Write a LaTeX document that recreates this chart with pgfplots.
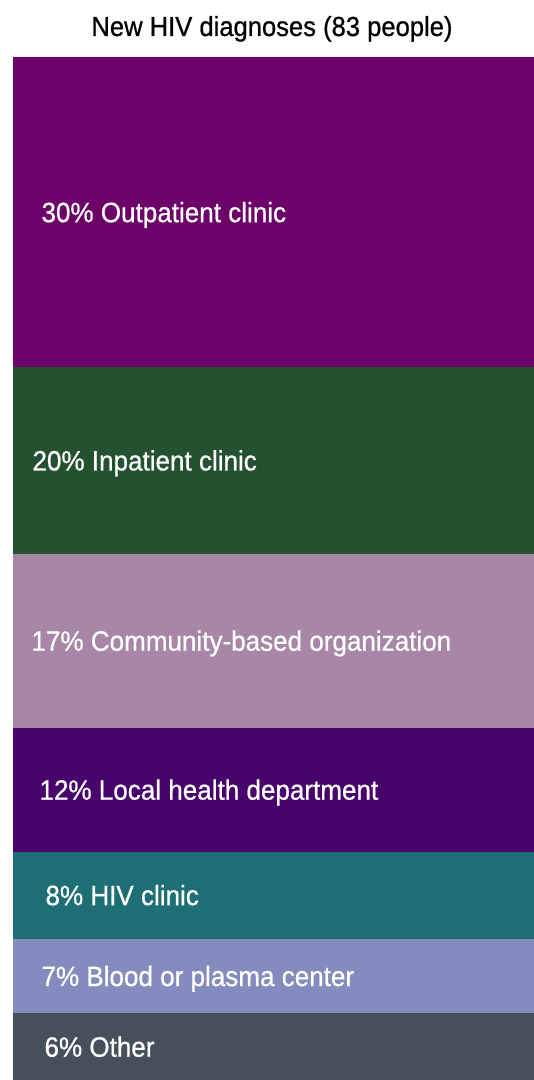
\documentclass[border=0pt]{standalone}
\usepackage{fontspec}
\setmainfont[FakeStretch=0.93,FakeBold=0.7]{Liberation Sans}
\usepackage{pgfplots}
\pgfplotsset{compat=1.18}
\definecolor{cOut}{HTML}{6E006A}
\definecolor{cIn}{HTML}{245130}
\definecolor{cCBO}{HTML}{A886A8}
\definecolor{cLHD}{HTML}{48036C}
\definecolor{cHIV}{HTML}{1E6E76}
\definecolor{cBlood}{HTML}{848BBE}
\definecolor{cOther}{HTML}{45505B}
\tikzset{lbl/.style={anchor=base west,text=white,yshift=-10bp,font=\fontsize{28bp}{32bp}\selectfont}}
\begin{document}
\begin{tikzpicture}
\path[use as bounding box] (0,0) rectangle (534bp,1080bp);
\node[anchor=base,font=\fontsize{27.5bp}{32bp}\selectfont] at (272bp,1044bp) {New HIV diagnoses (83 people)};
\begin{axis}[
  at={(13bp,0bp)}, anchor=south west,
  scale only axis, width=521bp, height=1023bp,
  hide axis,
  xmin=-0.5, xmax=0.5, ymin=0, ymax=99.9,
  ybar stacked, bar width=521bp,
  clip=false,
]
\addplot[fill=cOther,draw=none] coordinates {(0,6.5)};
\addplot[fill=cBlood,draw=none] coordinates {(0,7.3)};
\addplot[fill=cHIV,draw=none] coordinates {(0,8.5)};
\addplot[fill=cLHD,draw=none] coordinates {(0,12.1)};
\addplot[fill=cCBO,draw=none] coordinates {(0,17.0)};
\addplot[fill=cIn,draw=none] coordinates {(0,18.2)};
\addplot[fill=cOut,draw=none] coordinates {(0,30.3)};
\coordinate (l1) at (axis cs:-0.5,84.75);
\coordinate (l2) at (axis cs:-0.5,60.5);
\coordinate (l3) at (axis cs:-0.5,42.9);
\coordinate (l4) at (axis cs:-0.5,28.35);
\coordinate (l5) at (axis cs:-0.5,18.05);
\coordinate (l6) at (axis cs:-0.5,10.15);
\coordinate (l7) at (axis cs:-0.5,3.25);
\end{axis}
\node[lbl,xshift=25bp] at (l1) {30\% Outpatient clinic};
\node[lbl,xshift=16bp] at (l2) {20\% Inpatient clinic};
\node[lbl,xshift=15bp] at (l3) {17\% Community-based organization};
\node[lbl,xshift=23bp] at (l4) {12\% Local health department};
\node[lbl,xshift=29bp] at (l5) {8\% HIV clinic};
\node[lbl,xshift=25bp] at (l6) {7\% Blood or plasma center};
\node[lbl,xshift=28bp] at (l7) {6\% Other};
\end{tikzpicture}
\end{document}
